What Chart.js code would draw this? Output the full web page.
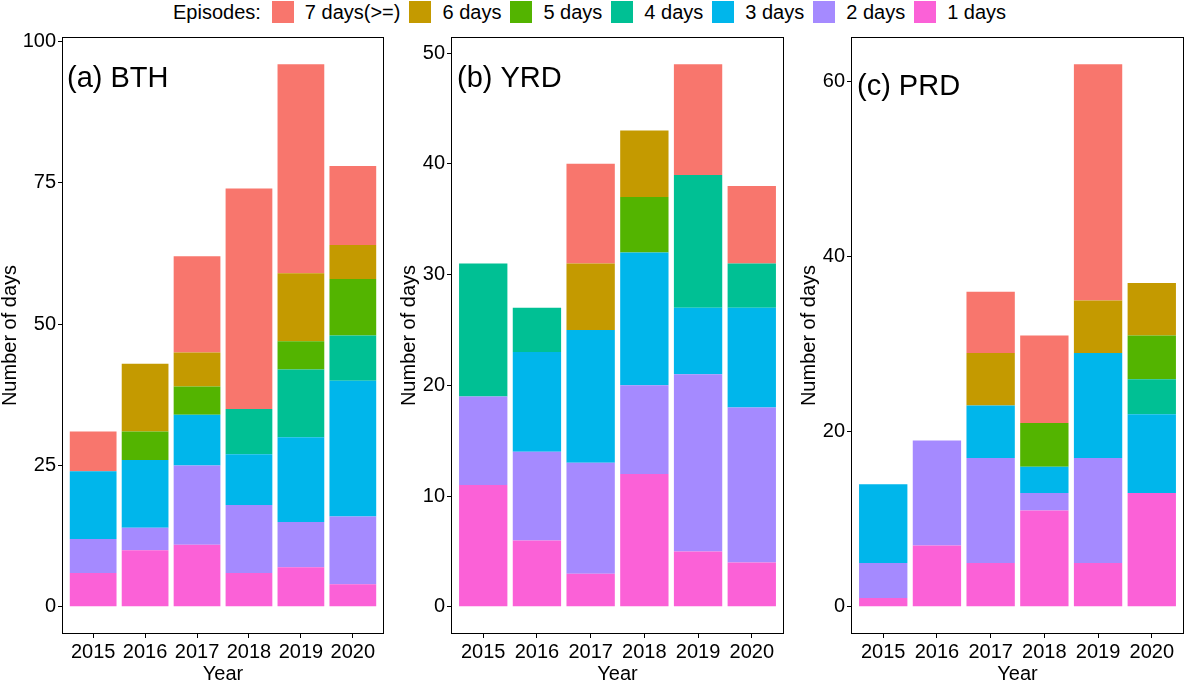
<!DOCTYPE html>
<html>
<head>
<meta charset="utf-8">
<script src="https://cdn.jsdelivr.net/npm/chart.js@4.4.1/dist/chart.umd.min.js"></script>
<style>
body{margin:0;background:#fff;font-family:"Liberation Sans",Arial,sans-serif;}
#wrap{position:relative;width:1185px;height:682px;overflow:hidden;}
#legend{position:absolute;left:173px;top:1px;height:22px;display:flex;align-items:center;font-size:20px;color:#000;white-space:nowrap;}
#legend .lab{margin-right:11px;}
#legend .sw{width:22px;height:22px;margin-right:11px;}
#legend .item{margin-right:9px;}
.panel{position:absolute;top:30px;}
</style>
</head>
<body>
<div id="wrap">
  <div id="legend"></div>
  <canvas id="bthChart" class="panel" style="left:0px" width="395" height="652"></canvas>
  <canvas id="yrdChart" class="panel" style="left:395px" width="395" height="652"></canvas>
  <canvas id="prdChart" class="panel" style="left:790px" width="395" height="652"></canvas>
</div>
<script>
const years = ["2015", "2016", "2017", "2018", "2019", "2020"];
// stacking order: bottom (1 days) to top (7 days or more)
const episodeLabels = ["1 days", "2 days", "3 days", "4 days", "5 days", "6 days", "7 days(>=)"];
const episodeColors = ["#FB61D7", "#A58AFF", "#00B6EB", "#00C094", "#53B400", "#C49A00", "#F8766D"];

// rows follow episodeLabels, columns follow years
const bthCounts = [
    [6, 10, 11, 6, 7, 4],
    [6, 4, 14, 12, 8, 12],
    [12, 12, 9, 9, 15, 24],
    [0, 0, 0, 8, 12, 8],
    [0, 5, 5, 0, 5, 10],
    [0, 12, 6, 0, 12, 6],
    [7, 0, 17, 39, 37, 14]
];
const yrdCounts = [
    [11, 6, 3, 12, 5, 4],
    [8, 8, 10, 8, 16, 14],
    [0, 9, 12, 12, 6, 9],
    [12, 4, 0, 0, 12, 4],
    [0, 0, 0, 5, 0, 0],
    [0, 0, 6, 6, 0, 0],
    [0, 0, 9, 0, 10, 7]
];
const prdCounts = [
    [1, 7, 5, 11, 5, 13],
    [4, 12, 12, 2, 12, 0],
    [9, 0, 6, 3, 12, 9],
    [0, 0, 0, 0, 0, 4],
    [0, 0, 0, 5, 0, 5],
    [0, 0, 6, 0, 6, 6],
    [0, 0, 7, 10, 27, 0]
];

const bthTicks = [0, 25, 50, 75, 100];
const yrdTicks = [0, 10, 20, 30, 40, 50];
const prdTicks = [0, 20, 40, 60];

Chart.defaults.font.family = '"Liberation Sans", Arial, sans-serif';
Chart.defaults.color = "#000";

// shared legend on top, 7 days first like the original
const legendEl = document.getElementById("legend");
legendEl.innerHTML = '<span class="lab">Episodes:</span>';
for (let i = episodeLabels.length - 1; i >= 0; i--) {
    legendEl.innerHTML += '<span class="sw" style="background:' + episodeColors[i] + '"></span>' +
        '<span class="item">' + episodeLabels[i] + '</span>';
}

// box around the panel + the "(a) BTH" style tag
const framePlugin = {
    id: "frame",
    afterDraw(chart, args, opts) {
        const ctx = chart.ctx;
        const a = chart.chartArea;
        ctx.save();
        ctx.strokeStyle = "#000";
        ctx.lineWidth = 1;
        ctx.strokeRect(Math.round(a.left) + 0.5, Math.round(a.top) + 0.5,
            Math.round(a.right - a.left) - 1, Math.round(a.bottom - a.top) - 1);
        ctx.fillStyle = "#000";
        ctx.font = '29px "Liberation Sans", Arial, sans-serif';
        ctx.textBaseline = "alphabetic";
        ctx.fillText(opts.label, a.left + opts.dx, a.top + opts.dy);
        ctx.restore();
    }
};

function makePanel(canvasId, counts, ticks, setup) {
    const totals = years.map((y, j) => counts.reduce((s, row) => s + row[j], 0));
    const top = Math.max(...totals);

    const datasets = episodeLabels.map((name, i) => ({
        label: name,
        data: counts[i],
        backgroundColor: episodeColors[i],
        borderWidth: 0,
        barPercentage: 0.9,
        categoryPercentage: 1.0
    }));

    return new Chart(document.getElementById(canvasId).getContext("2d"), {
        type: "bar",
        data: { labels: years, datasets: datasets },
        plugins: [framePlugin],
        options: {
            responsive: false,
            animation: false,
            layout: { padding: { left: 0, right: setup.padRight, top: 7, bottom: 0 } },
            plugins: {
                legend: { display: false },
                tooltip: { enabled: false },
                frame: { label: setup.label, dx: setup.dx, dy: setup.dy }
            },
            scales: {
                x: {
                    stacked: true,
                    offset: true,
                    // ggplot keeps 0.6 of a category on both sides
                    afterBuildTicks: (s) => { s._startValue = -0.6; s._valueRange = years.length + 0.2; },
                    afterFit: (s) => { s.height = 48; s.paddingLeft = 0; s.paddingRight = 0; },
                    grid: { drawOnChartArea: false, offset: false, color: "#000", tickLength: 4, tickWidth: 1 },
                    border: { display: false },
                    ticks: { font: { size: 20 }, padding: 2, maxRotation: 0, color: "#000" },
                    title: { display: true, text: "Year", font: { size: 20, lineHeight: 1 }, padding: { top: 0, bottom: -2 }, color: "#000" }
                },
                y: {
                    stacked: true,
                    min: -0.05 * top,
                    max: 1.05 * top,
                    afterBuildTicks: (s) => { s.ticks = ticks.map(v => ({ value: v })); },
                    afterFit: (s) => { s.width = setup.axisWidth; s.paddingTop = 0; s.paddingBottom = 0; },
                    grid: { drawOnChartArea: false, color: "#000", tickLength: 4, tickWidth: 1 },
                    border: { display: false },
                    ticks: { font: { size: 20 }, padding: 2, color: "#000" },
                    title: { display: true, text: "Number of days", font: { size: 20, lineHeight: 1 }, padding: { top: setup.titlePad, bottom: 0 }, color: "#000" }
                }
            }
        }
    });
}

makePanel("bthChart", bthCounts, bthTicks, { label: "(a) BTH", dx: 5, dy: 50, padRight: 11, axisWidth: 62, titlePad: 0 });
makePanel("yrdChart", yrdCounts, yrdTicks, { label: "(b) YRD", dx: 6, dy: 50, padRight: 6, axisWidth: 56, titlePad: 4 });
makePanel("prdChart", prdCounts, prdTicks, { label: "(c) PRD", dx: 6, dy: 58, padRight: 1, axisWidth: 61, titlePad: 9 });
</script>
</body>
</html>
